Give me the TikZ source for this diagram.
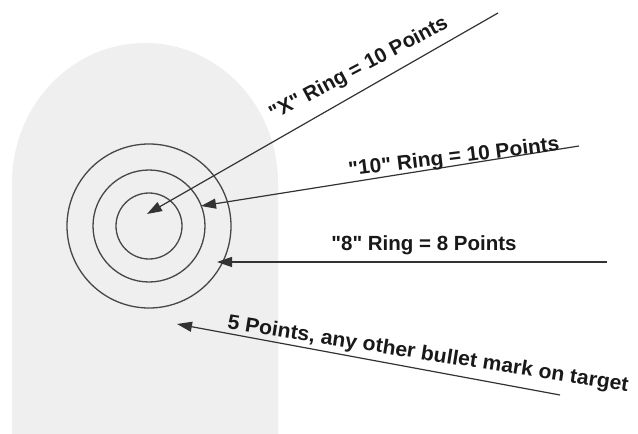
\documentclass[tikz,border=0pt]{standalone}
\usepackage{fontspec}
\setmainfont{Liberation Sans}[Ligatures=TeXOff]
\usetikzlibrary{arrows.meta}
\definecolor{silh}{HTML}{EFEFEF}
\definecolor{ink}{HTML}{333333}
\begin{document}
\begin{tikzpicture}[x=1pt,y=-1pt,
  ring/.style={draw=ink!90,line width=1.3pt},
  pointer/.style={draw=ink,line width=1.2pt,-{Triangle[length=15pt,width=10pt]}},
  lbl/.style={inner sep=0pt,font=\fontsize{20.5}{24}\selectfont\bfseries,text=black!90}]
\useasboundingbox (0,0) rectangle (638,434);
\fill[white] (0,0) rectangle (638,434);
% silhouette
\fill[silh] (12,434) -- (12,183) arc[start angle=180,end angle=360,x radius=133,y radius=140] -- (278,434) -- cycle;
% rings
\coordinate (c) at (149,226);
\draw[ring] (c) circle[radius=33];
\draw[ring] (c) circle[radius=56];
\draw[ring] (c) circle[radius=82];
% pointer ends
\coordinate (xs) at (498,13);   \coordinate (xt) at (147,214);
\coordinate (ts) at (579,146);  \coordinate (tt) at (201,206);
\coordinate (es) at (607,262);  \coordinate (et) at (217,262);
\coordinate (fs) at (560,395);  \coordinate (ft) at (177,324);
\draw[pointer] (xs) -- (xt);
\draw[pointer] (ts) -- (tt);
\draw[pointer] (es) -- (et);
\draw[pointer] (fs) -- (ft);
% labels
\node[lbl,rotate=28] (lx) at (359,69) {"X" Ring = 10 Points};
\node[lbl,rotate=7,xscale=1.02] (lt) at (454,158) {"10" Ring = 10 Points};
\node[lbl] (le) at (424,245) {"8" Ring = 8 Points};
\node[lbl,rotate=-9,xscale=1.035] (lf) at (428,355) {5 Points, any other bullet mark on target};
\end{tikzpicture}
\end{document}
